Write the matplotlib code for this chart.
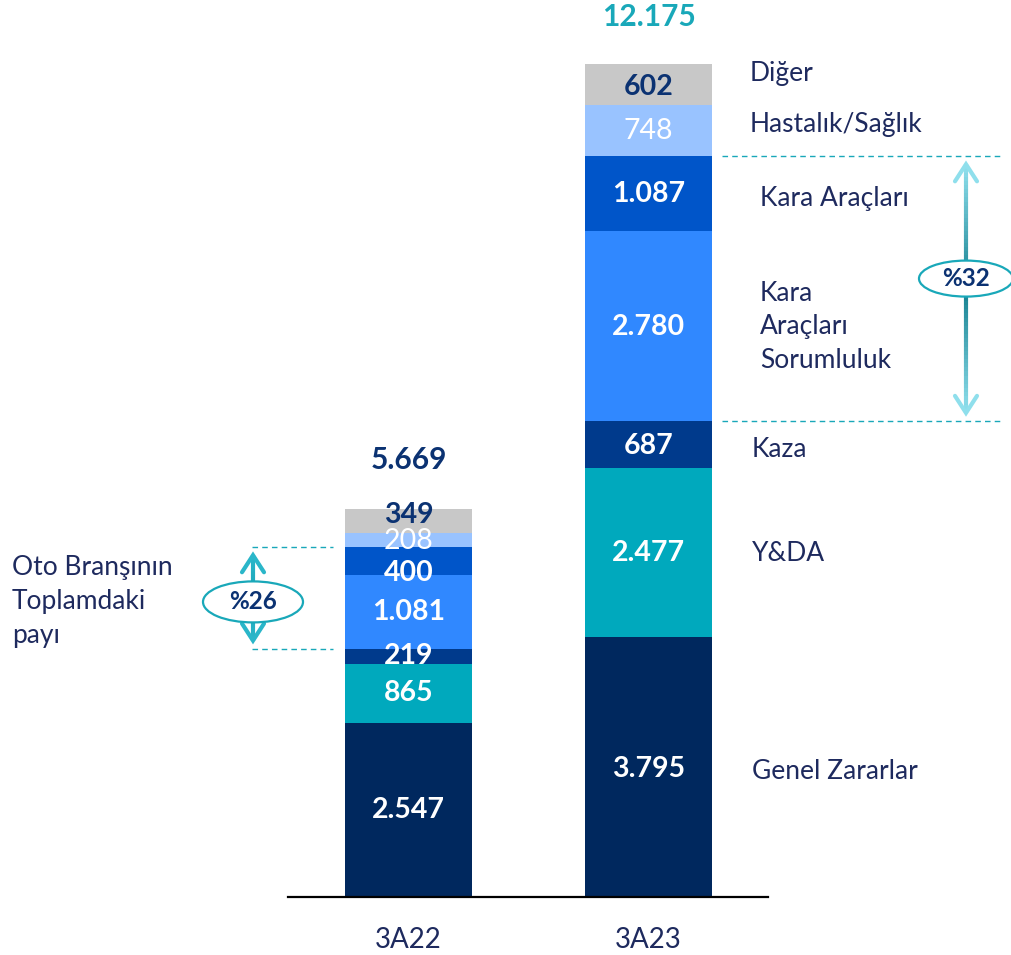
import numpy as np
import matplotlib.pyplot as plt
from matplotlib.patches import Ellipse
from matplotlib.collections import LineCollection
from matplotlib.colors import to_rgb

plt.rcParams['font.family'] = ['Lato', 'DejaVu Sans']

## data

periods = ["3A22", "3A23"]
segments = ["Genel Zararlar", "Y&DA", "Kaza", "Kara Araçları Sorumluluk",
            "Kara Araçları", "Hastalık/Sağlık", "Diğer"]
vals_3a22 = [2547, 865, 219, 1081, 400, 208, 349]
vals_3a23 = [3795, 2477, 687, 2780, 1087, 748, 602]
val_labels_3a22 = ["2.547", "865", "219", "1.081", "400", "208", "349"]
val_labels_3a23 = ["3.795", "2.477", "687", "2.780", "1.087", "748", "602"]
totals = ["5.669", "12.175"]
share_labels = ["%26", "%32"]
right_labels = ["Genel Zararlar", "Y&DA", "Kaza", "Kara\nAraçları\nSorumluluk",
                "Kara Araçları", "Hastalık/Sağlık", "Diğer"]

## styles

colors = ["#00285e", "#00a9bd", "#003a8c", "#3088ff", "#0055c9", "#99c3ff", "#c8c8c8"]
navy = "#1e2a5e"
teal = "#19a8b9"
seg_txt_col = ["white", "white", "white", "white", "white", "white", "#0b3272"]
seg_txt_w = ["bold", "bold", "bold", "bold", "bold", "normal", "bold"]

W, H = 1012, 955
base_px, top_px, top_val = 897, 64, 12175
k = top_val / (base_px - top_px)   # value units per pixel


def py(p):
    # pixel row (from top) -> value axis
    return (base_px - p) * k


fig = plt.figure(figsize=(W / 100, H / 100), dpi=100)
ax = fig.add_axes([0, 0, 1, 1])
ax.set_xlim(0, W)
ax.set_ylim(py(H), py(0))
ax.axis('off')

xpos = [408.5, 648.5]
bw = 127

for xi, vals in zip(xpos, [vals_3a22, vals_3a23]):
    bottoms = np.concatenate([[0], np.cumsum(vals)[:-1]])
    ax.bar([xi] * len(vals), vals, bottom=bottoms, width=bw, color=colors,
           edgecolor='none', zorder=2)

# value labels in segments (pixel nudges, + = up)
offs_3a22 = [0, 0, 0, 0, -12, -1, 6]
offs_3a23 = [-2, 0, -2, -1, -1, 0, -2]
for xi, vals, labs, offs in zip(xpos, [vals_3a22, vals_3a23],
                                [val_labels_3a22, val_labels_3a23], [offs_3a22, offs_3a23]):
    cum = np.cumsum(vals)
    mids = cum - np.array(vals) / 2
    for i, (m, lab) in enumerate(zip(mids, labs)):
        ax.text(xi, m + offs[i] * k, lab, ha='center', va='center', fontsize=20.5,
                color=seg_txt_col[i], fontweight=seg_txt_w[i], zorder=4)

# totals
ax.text(xpos[0], py(460), totals[0], ha='center', va='center', fontsize=21.5,
        fontweight='bold', color="#0b3272")
ax.text(xpos[1], py(17), totals[1], ha='center', va='center', fontsize=21.5,
        fontweight='bold', color=teal)

# baseline
ax.plot([288, 768], [0, 0], color='black', lw=1.6, zorder=3)

# category labels
for xi, p in zip(xpos, periods):
    ax.text(xi, py(940), p, ha='center', va='center', fontsize=20, color=navy)

# right side segment names for 3A23
cum23 = np.cumsum(vals_3a23)
mid23 = cum23 - np.array(vals_3a23) / 2
lab_x = [752, 752, 752, 760, 760, 750, 750]
lab_off = [-4, -1, -5, -1, -5, 6, 11]
for m, lab, lx, o in zip(mid23, right_labels, lab_x, lab_off):
    ax.text(lx, m + o * k, lab, ha='left', va='center', fontsize=19, color=navy,
            linespacing=1.42)

# left text
ax.text(12, py(602), "Oto Branşının\nToplamdaki\npayı", ha='left', va='center',
        fontsize=19, color=navy, linespacing=1.45)


def share_arrow(x, y_lo, y_hi, x0, x1, label, ell_w, ell_h, ell_dy, grad):
    # dashed guide lines
    ax.plot([x0, x1], [y_hi, y_hi], color=teal, lw=1, ls=(0, (4, 3)), zorder=1)
    ax.plot([x0, x1], [y_lo, y_lo], color=teal, lw=1, ls=(0, (4, 3)), zorder=1)
    a, b = y_lo + 8 * k, y_hi - 8 * k
    n = 60
    ys = np.linspace(a, b, n + 1)
    t = np.abs(np.linspace(-1, 1, n))
    light, dark = np.array(to_rgb(grad[0])), np.array(to_rgb(grad[1]))
    cols = [tuple(light * ti + dark * (1 - ti)) for ti in t]
    segs = [[(x, ys[i]), (x, ys[i + 1])] for i in range(n)]
    ax.add_collection(LineCollection(segs, colors=cols, linewidths=3, zorder=3))
    # open heads
    hw, hl = 11, 17
    ax.plot([x - hw, x, x + hw], [b - hl * k, b, b - hl * k], color=grad[0], lw=3,
            solid_capstyle='round', solid_joinstyle='miter', zorder=3)
    ax.plot([x - hw, x, x + hw], [a + hl * k, a, a + hl * k], color=grad[0], lw=3,
            solid_capstyle='round', solid_joinstyle='miter', zorder=3)
    yc = (y_lo + y_hi) / 2 + ell_dy * k
    ax.add_patch(Ellipse((x, yc), ell_w, ell_h * k, facecolor='white', edgecolor=teal,
                         lw=1.6, zorder=4))
    ax.text(x, yc, label, ha='center', va='center', fontsize=17.5, fontweight='bold',
            color="#0b3272", zorder=5)


cum22 = np.cumsum(vals_3a22)
share_arrow(253, cum22[2], cum22[4], 252, 333, share_labels[0], 100, 41, -4,
            ("#2ab6c9", "#1aa3b6"))
share_arrow(966, cum23[2], cum23[4], 722, 1000, share_labels[1], 94, 36, 10,
            ("#8fdfec", "#137e8e"))

fig.savefig("out.png", dpi=100)
